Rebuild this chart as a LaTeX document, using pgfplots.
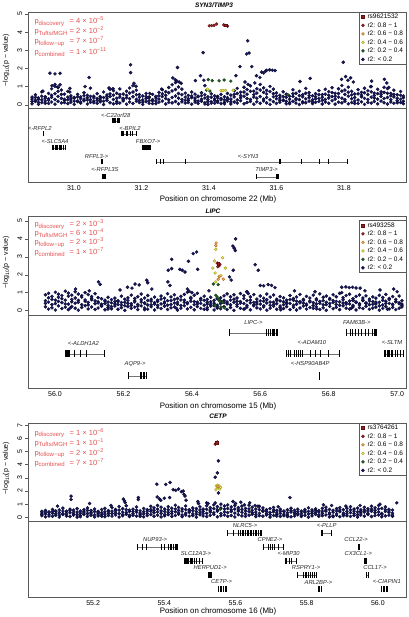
\documentclass[border=0pt]{standalone}
\usepackage{pgfplots}
\pgfplotsset{compat=1.18}
\usepackage{pgfplotstable}
\usepackage{fontspec}
\setmainfont{Liberation Sans}
\definecolor{navyf}{RGB}{24,24,98}
\definecolor{navyd}{RGB}{6,6,42}
\definecolor{dredf}{RGB}{150,30,30}
\definecolor{dredd}{RGB}{95,15,15}
\definecolor{orgf}{RGB}{240,200,140}
\definecolor{orgd}{RGB}{190,115,35}
\definecolor{yelf}{RGB}{250,250,170}
\definecolor{yeld}{RGB}{175,170,30}
\definecolor{grnf}{RGB}{35,95,35}
\definecolor{grnd}{RGB}{15,55,15}
\definecolor{pred}{RGB}{228,80,80}
\definecolor{frame}{RGB}{90,90,90}

\pgfplotstableread{
x a b c d
30.876 0.05 0.31 0.42 0.18
30.886 0.18 0.24 0.55 0.40
30.895 0.02 0.38 0.29 0.13
30.905 0.12 0.27 0.71 0.47
30.915 0.21 0.44 0.36 0.08
30.925 0.07 0.33 0.62 0.25
30.934 0.15 0.41 0.88 0.52
30.944 0.03 0.29 1.02 0.61
30.953 0.19 0.46 0.95 0.74
30.963 0.10 0.35 0.81 0.57
30.972 0.24 0.30 0.58 0.12
30.982 0.06 0.42 0.74 0.27
30.991 0.14 0.26 0.49 0.36
31.001 0.02 0.37 0.40 0.20
31.011 0.17 0.22 0.57 0.43
31.020 0.09 0.43 0.33 0.15
31.030 0.22 0.31 0.66 0.50
31.040 0.04 0.39 0.52 0.26
31.049 0.13 0.28 0.91 0.46
31.059 0.20 0.47 0.38 0.11
31.069 0.08 0.34 0.61 0.24
31.078 0.16 0.25 0.45 0.37
31.088 0.01 0.40 0.70 0.19
31.098 0.23 0.32 0.54 0.44
31.107 0.11 0.45 0.85 0.60
31.117 0.05 0.29 0.78 0.53
31.127 0.18 0.36 0.63 0.08
31.136 0.09 0.42 0.87 0.56
31.146 0.21 0.27 0.59 0.35
31.156 0.03 0.38 0.74 0.51
31.165 0.15 0.33 0.92 0.64
31.175 0.07 0.44 1.05 0.70
31.185 0.19 0.30 0.80 0.55
31.194 0.12 0.41 0.56 0.23
31.204 0.02 0.26 0.48 0.14
31.214 0.17 0.35 0.62 0.45
31.223 0.08 0.43 0.39 0.22
31.233 0.22 0.28 0.57 0.06
31.243 0.06 0.37 0.46 0.21
31.252 0.14 0.31 0.68 0.49
31.262 0.20 0.45 0.83 0.60
31.272 0.04 0.34 0.72 0.52
31.281 0.13 0.27 0.95 0.66
31.291 0.10 0.40 1.10 0.76
31.301 0.18 0.48 1.22 0.84
31.310 0.05 0.36 0.98 0.62
31.320 0.16 0.29 0.86 0.55
31.330 0.09 0.42 0.64 0.24
31.339 0.23 0.33 0.51 0.12
31.349 0.03 0.39 0.70 0.48
31.359 0.14 0.25 0.58 0.37
31.368 0.07 0.44 0.47 0.20
31.378 0.19 0.30 0.66 0.50
31.388 0.11 0.37 0.55 0.04
31.397 0.02 0.28 0.43 0.17
31.407 0.17 0.41 0.60 0.09
31.417 0.08 0.32 0.49 0.23
31.426 0.21 0.46 0.38 0.13
31.436 0.06 0.35 0.57 0.27
31.446 0.13 0.27 0.44 0.05
31.455 0.20 0.39 0.62 0.30
31.465 0.04 0.31 0.53 0.16
31.475 0.15 0.43 0.77 0.57
31.484 0.09 0.26 0.90 0.62
31.494 0.22 0.38 0.69 0.50
31.504 0.05 0.47 0.96 0.70
31.513 0.12 0.34 0.84 0.58
31.523 0.18 0.29 1.04 0.74
31.533 0.03 0.42 0.75 0.56
31.542 0.16 0.36 0.88 0.64
31.552 0.08 0.45 1.12 0.81
31.562 0.21 0.31 0.93 0.68
31.571 0.10 0.40 0.79 0.59
31.581 0.02 0.27 1.01 0.72
31.591 0.17 0.44 0.86 0.61
31.600 0.07 0.33 0.65 0.48
31.610 0.14 0.38 0.52 0.25
31.620 0.23 0.26 0.71 0.45
31.629 0.05 0.41 0.58 0.19
31.639 0.12 0.30 0.47 0.06
31.649 0.19 0.46 0.82 0.60
31.658 0.09 0.35 0.63 0.27
31.668 0.01 0.28 0.74 0.50
31.678 0.16 0.43 0.55 0.10
31.687 0.11 0.32 0.90 0.63
31.697 0.20 0.39 0.67 0.51
31.707 0.06 0.27 0.49 0.15
31.716 0.13 0.44 0.61 0.32
31.726 0.18 0.34 0.78 0.55
31.736 0.04 0.41 0.56 0.24
31.745 0.15 0.29 0.85 0.58
31.755 0.08 0.37 0.72 0.52
31.765 0.22 0.45 0.94 0.67
31.774 0.03 0.31 0.63 0.47
31.784 0.14 0.42 0.88 0.62
31.794 0.10 0.36 1.06 0.75
31.803 0.19 0.28 0.81 0.57
31.813 0.05 0.47 0.97 0.69
31.823 0.12 0.33 0.74 0.54
31.832 0.21 0.40 0.59 0.07
31.842 0.07 0.26 0.83 0.60
31.852 0.16 0.44 0.68 0.53
31.861 0.02 0.35 0.91 0.66
31.871 0.13 0.29 0.77 0.56
31.881 0.09 0.42 1.00 0.71
31.890 0.18 0.37 0.64 0.51
31.900 0.05 0.31 0.85 0.61
31.910 0.20 0.46 0.71 0.58
31.919 0.11 0.34 0.96 0.68
31.929 0.04 0.40 0.89 0.63
31.939 0.15 0.28 0.62 0.49
31.948 0.08 0.43 0.80 0.57
31.958 0.22 0.36 0.55 0.11
31.968 0.12 0.30 0.73 0.52
31.976 0.06 0.39 0.48 0.19
}\bandA

\pgfplotstableread{
x a b c d
55.972 0.21 0.55 0.88 0.40
55.981 0.08 0.47 0.96 0.71
55.991 0.15 0.62 0.79 0.33
56.001 0.03 0.39 1.02 0.58
56.010 0.26 0.51 0.91 0.74
56.020 0.11 0.44 0.84 0.66
56.030 0.19 0.58 1.08 0.37
56.039 0.05 0.36 0.97 0.80
56.049 0.23 0.49 0.86 0.62
56.059 0.13 0.41 1.05 0.70
56.068 0.02 0.57 0.92 0.46
56.078 0.17 0.33 0.83 0.75
56.088 0.27 0.52 1.00 0.59
56.097 0.09 0.45 0.89 0.31
56.107 0.20 0.60 0.78 0.68
56.117 0.06 0.38 0.94 0.54
56.126 0.14 0.48 0.72 0.42
56.136 0.24 0.35 0.66 0.28
56.146 0.04 0.53 0.58 0.39
56.155 0.18 0.29 0.74 0.47
56.165 0.10 0.43 0.61 0.22
56.175 0.25 0.37 0.69 0.50
56.184 0.07 0.50 0.55 0.33
56.194 0.16 0.31 0.80 0.45
56.204 0.01 0.46 0.63 0.27
56.213 0.22 0.40 0.71 0.56
56.223 0.12 0.28 0.86 0.38
56.233 0.19 0.54 0.67 0.48
56.242 0.05 0.34 0.77 0.25
56.252 0.26 0.47 0.92 0.60
56.262 0.14 0.39 0.70 0.43
56.271 0.08 0.56 0.84 0.31
56.281 0.21 0.32 0.63 0.52
56.291 0.03 0.44 0.75 0.36
56.300 0.17 0.51 0.58 0.29
56.310 0.11 0.37 0.81 0.64
56.320 0.24 0.48 0.69 0.41
56.329 0.06 0.30 0.94 0.55
56.339 0.15 0.55 0.76 0.34
56.349 0.20 0.42 0.88 0.62
56.358 0.02 0.35 0.67 0.47
56.368 0.13 0.59 0.79 0.28
56.378 0.27 0.45 0.90 0.58
56.387 0.09 0.38 1.02 0.44
56.397 0.18 0.52 0.73 0.66
56.407 0.04 0.33 0.85 0.50
56.416 0.22 0.47 0.96 0.37
56.426 0.12 0.40 0.68 0.59
56.436 0.07 0.57 0.80 0.30
56.445 0.16 0.36 0.62 0.46
56.455 0.25 0.49 0.74 0.35
56.465 0.03 0.41 0.57 0.27
56.474 0.14 0.30 0.66 0.20
56.484 0.10 0.53 0.71 0.39
56.494 0.21 0.44 0.82 0.57
56.503 0.06 0.37 0.93 0.48
56.513 0.17 0.58 0.77 0.32
56.523 0.01 0.46 0.88 0.63
56.532 0.23 0.34 0.70 0.52
56.542 0.12 0.50 0.95 0.41
56.552 0.08 0.39 0.83 0.67
56.561 0.19 0.55 1.05 0.29
56.571 0.04 0.43 0.76 0.58
56.581 0.26 0.31 0.89 0.45
56.590 0.15 0.48 0.64 0.36
56.600 0.09 0.36 0.81 0.54
56.610 0.20 0.52 0.69 0.27
56.619 0.02 0.42 0.92 0.60
56.629 0.13 0.29 0.75 0.47
56.639 0.24 0.47 0.87 0.34
56.648 0.07 0.38 0.63 0.56
56.658 0.16 0.54 0.78 0.25
56.668 0.11 0.33 0.71 0.49
56.677 0.22 0.45 0.58 0.38
56.687 0.05 0.40 0.84 0.61
56.697 0.18 0.57 0.67 0.30
56.706 0.03 0.35 0.76 0.52
56.716 0.14 0.49 0.90 0.43
56.726 0.25 0.41 0.62 0.57
56.735 0.08 0.30 0.79 0.36
56.745 0.17 0.53 0.70 0.48
56.755 0.12 0.44 0.86 0.28
56.764 0.21 0.37 0.65 0.59
56.774 0.06 0.51 0.93 0.40
56.784 0.15 0.32 0.74 0.55
56.793 0.01 0.46 0.81 0.33
56.803 0.23 0.39 0.68 0.62
56.813 0.10 0.56 0.88 0.45
56.822 0.18 0.34 0.77 0.51
56.832 0.05 0.48 0.96 0.29
56.842 0.26 0.42 0.72 0.60
56.851 0.13 0.36 0.84 0.44
56.861 0.08 0.53 0.91 0.37
56.871 0.20 0.29 0.66 0.56
56.880 0.03 0.45 0.79 0.48
56.890 0.16 0.38 0.87 0.31
56.900 0.11 0.55 0.70 0.58
56.909 0.24 0.41 0.82 0.42
56.919 0.07 0.33 0.64 0.53
56.929 0.14 0.50 0.76 0.35
56.938 0.19 0.37 0.69 0.47
56.948 0.02 0.46 0.85 0.26
56.958 0.12 0.31 0.73 0.57
56.967 0.22 0.52 0.90 0.40
56.977 0.09 0.40 0.67 0.61
56.987 0.17 0.35 0.78 0.32
56.996 0.05 0.49 0.62 0.50
57.006 0.13 0.43 0.81 0.38
57.014 0.20 0.36 0.55 0.28
}\bandB

\pgfplotstableread{
x a b c d
55.056 0.12 0.33 0.45 0.22
55.066 0.04 0.27 0.52 0.39
55.076 0.19 0.41 0.38 0.09
55.086 0.08 0.30 0.60 0.46
55.095 0.15 0.45 0.49 0.27
55.105 0.02 0.36 0.56 0.18
55.115 0.21 0.28 0.70 0.48
55.125 0.10 0.43 0.47 0.25
55.135 0.06 0.34 0.62 0.51
55.145 0.17 0.25 0.55 0.40
55.155 0.01 0.40 0.66 0.20
55.164 0.13 0.31 0.48 0.05
55.174 0.22 0.46 0.58 0.34
55.184 0.07 0.29 0.71 0.52
55.194 0.16 0.38 0.52 0.26
55.204 0.03 0.44 0.63 0.19
55.214 0.11 0.26 0.45 0.37
55.224 0.20 0.35 0.59 0.08
55.233 0.05 0.42 0.68 0.24
55.243 0.14 0.30 0.51 0.44
55.253 0.09 0.47 0.74 0.29
55.263 0.18 0.33 0.60 0.50
55.273 0.02 0.28 0.82 0.55
55.283 0.12 0.40 0.66 0.21
55.293 0.23 0.36 0.88 0.58
55.302 0.06 0.45 0.55 0.16
55.312 0.15 0.27 0.62 0.43
55.322 0.10 0.39 0.79 0.54
55.332 0.19 0.32 0.50 0.07
55.342 0.04 0.43 0.67 0.26
55.352 0.13 0.29 0.58 0.47
55.362 0.21 0.46 0.84 0.60
55.371 0.08 0.35 0.72 0.53
55.381 0.16 0.41 0.90 0.62
55.391 0.03 0.30 0.77 0.49
55.401 0.11 0.44 0.63 0.22
55.411 0.20 0.37 0.81 0.57
55.421 0.07 0.28 0.69 0.45
55.431 0.14 0.42 0.92 0.63
55.440 0.24 0.33 0.75 0.52
55.450 0.05 0.46 0.64 0.18
55.460 0.17 0.31 0.86 0.59
55.470 0.09 0.39 0.58 0.48
55.480 0.13 0.27 0.71 0.51
55.490 0.01 0.43 0.66 0.23
55.500 0.19 0.35 0.80 0.56
55.509 0.10 0.45 0.62 0.27
55.519 0.06 0.30 0.88 0.61
55.529 0.15 0.40 0.73 0.54
55.539 0.22 0.34 0.95 0.66
55.549 0.04 0.47 0.81 0.58
55.559 0.12 0.29 1.00 0.70
55.569 0.18 0.41 0.86 0.62
55.578 0.08 0.36 0.94 0.67
55.588 0.14 0.44 0.79 0.57
55.598 0.03 0.32 0.90 0.63
55.608 0.20 0.46 0.74 0.55
55.618 0.11 0.38 0.85 0.60
55.628 0.07 0.27 0.68 0.50
55.638 0.16 0.43 0.92 0.64
55.647 0.23 0.35 0.77 0.53
55.657 0.05 0.40 0.63 0.21
55.667 0.13 0.31 0.83 0.58
55.677 0.09 0.45 0.71 0.52
55.687 0.18 0.28 0.58 0.44
55.697 0.02 0.37 0.66 0.20
55.707 0.14 0.42 0.75 0.55
55.716 0.21 0.33 0.52 0.10
55.726 0.07 0.29 0.61 0.45
55.736 0.12 0.44 0.48 0.24
55.746 0.17 0.35 0.57 0.06
55.756 0.04 0.40 0.69 0.51
55.766 0.10 0.26 0.54 0.38
55.775 0.19 0.43 0.62 0.28
55.785 0.06 0.31 0.47 0.16
55.795 0.15 0.38 0.59 0.47
55.805 0.01 0.45 0.72 0.25
55.815 0.11 0.29 0.56 0.42
55.825 0.22 0.36 0.64 0.50
55.834 0.08 0.41 0.51 0.19
55.844 0.13 0.30 0.68 0.46
55.854 0.18 0.47 0.77 0.56
55.864 0.03 0.34 0.60 0.23
55.874 0.10 0.39 0.53 0.05
55.884 0.16 0.27 0.66 0.48
55.893 0.05 0.43 0.74 0.55
55.903 0.20 0.32 0.58 0.12
55.913 0.12 0.45 0.69 0.27
55.923 0.07 0.36 0.81 0.57
55.933 0.14 0.28 0.63 0.47
55.943 0.02 0.42 0.70 0.21
55.952 0.17 0.33 0.57 0.45
55.962 0.09 0.40 0.76 0.55
55.972 0.21 0.30 0.65 0.49
55.982 0.06 0.46 0.84 0.61
55.992 0.13 0.35 0.72 0.54
56.002 0.18 0.41 0.90 0.63
56.011 0.04 0.29 0.68 0.22
56.021 0.11 0.44 0.79 0.58
56.031 0.16 0.37 0.61 0.48
56.041 0.08 0.32 0.55 0.17
}\bandC

\pgfplotsset{
  base/.style={scale only axis, width=378pt, axis line style={frame, line width=0.5pt},
    tick style={frame, line width=0.4pt},
    ticklabel style={font=\fontsize{7}{8}\selectfont},
    /pgf/number format/assume math mode=true},
  scat/.style={base, xtick=\empty, ytick pos=left, tick align=outside, major tick length=3pt,
    yticklabel style={rotate=90, anchor=south, inner sep=2.5pt},
    legend cell align=left,
    legend image code/.code={\path[##1] plot coordinates {(0pt,0pt)};},
    legend style={at={(1,1)}, anchor=north east, draw=frame, line width=0.4pt,
      font=\fontsize{6.5}{7}\selectfont, inner xsep=2.2pt, inner ysep=1pt,
      nodes={inner sep=0.6pt, text height=4.8pt, text depth=1.4pt},
      row sep=1.1pt, column sep=2.4pt}},
  genes/.style={base, ytick=\empty, xtick pos=bottom, major tick length=0pt,
    xticklabel={\pgfmathprintnumber[fixed,fixed zerofill,precision=1]{\tick}}},
  nv/.style={only marks, mark=*, mark size=1.6pt, mark options={fill=navyf, draw=navyd, line width=0.3pt}},
  gr/.style={only marks, mark=*, mark size=1.5pt, mark options={fill=grnf, draw=grnd, line width=0.3pt}},
  ye/.style={only marks, mark=*, mark size=1.35pt, mark options={fill=yelf, draw=yeld, line width=0.6pt}},
  og/.style={only marks, mark=*, mark size=1.35pt, mark options={fill=orgf, draw=orgd, line width=0.6pt}},
  dr/.style={only marks, mark=*, mark size=1.5pt, mark options={fill=dredf, draw=dredd, line width=0.3pt}},
  sq/.style={only marks, mark=square*, mark size=1.4pt, mark options={fill=dredf, draw=dredd, line width=0.3pt}},
  ex/.style={only marks, mark=|, mark size=#1, mark options={line width=0.8pt, draw=black}},
  in/.style={no markers, draw=black!55, line width=0.5pt},
}
\tikzset{
  glab/.style={font=\fontsize{5.8}{6}\selectfont\itshape, text=black!85, inner sep=0pt},
  pv/.style={font=\fontsize{7.5}{8}\selectfont, text=pred, inner sep=0pt},
  ttl/.style={font=\fontsize{6.5}{7}\selectfont\bfseries\itshape},
  xl/.style={font=\fontsize{7.9}{9}\selectfont},
  yl/.style={font=\fontsize{7}{8}\selectfont, rotate=90},
}
\newcommand{\sx}[1]{\raisebox{3.3pt}{\fontsize{5.5}{5.5}\selectfont #1}}
\newcommand{\prow}[3]{%
  \node[pv,anchor=base west] at (34.3,#1) {p\raisebox{-1.6pt}{\fontsize{6}{6}\selectfont #2}};
  \node[pv,anchor=base west] at (69.5,#1) {= #3};}
\newcommand{\leg}[1]{%
  \addlegendimage{sq}\addlegendentry{#1}
  \addlegendimage{dr}\addlegendentry{r2: 0.8 − 1}
  \addlegendimage{og}\addlegendentry{r2: 0.6 − 0.8}
  \addlegendimage{ye}\addlegendentry{r2: 0.4 − 0.6}
  \addlegendimage{gr}\addlegendentry{r2: 0.2 − 0.4}
  \addlegendimage{nv}\addlegendentry{r2: < 0.2}}

\begin{document}
\begin{tikzpicture}[x=1pt,y=1pt]
\path[use as bounding box] (0,0) rectangle (408,617);

% ================= Panel 1 =================
\begin{axis}[scat, at={(28pt,605pt)}, anchor=north west, height=96pt,
  xmin=30.864, xmax=31.984, ymin=-0.18, ymax=5.11, ytick={0,1,2,3,4,5}]
\addplot[nv,forget plot] table[x=x,y=a]{\bandA};
\addplot[nv,forget plot] table[x=x,y=b]{\bandA};
\addplot[nv,forget plot] table[x=x,y=c]{\bandA};
\addplot[nv,forget plot] table[x=x,y=d]{\bandA};
\addplot[nv,forget plot] coordinates {(30.929,1.74)(30.944,1.70)(30.959,1.73)(30.935,1.05)(30.944,1.12)(30.953,0.98)(30.959,1.10)(30.908,0.75)(30.988,0.90)(30.988,0.70)(31.033,1.00)(31.045,1.50)(31.104,0.92)(31.116,0.88)(31.168,2.20)(31.168,1.77)(31.178,1.18)(31.184,1.02)(31.225,0.62)(31.260,0.86)(31.307,2.05)(31.293,1.48)(31.300,1.38)(31.305,1.30)(31.312,1.25)(31.318,1.18)(31.360,1.33)(31.375,1.60)(31.383,2.87)(31.385,1.35)(31.388,1.05)(31.480,1.60)(31.492,2.10)(31.507,1.25)(31.512,2.80)(31.515,3.52)(31.516,1.12)(31.519,2.85)(31.527,2.10)(31.536,1.20)(31.541,1.60)(31.551,1.50)(31.556,1.80)(31.562,1.75)(31.568,1.85)(31.571,1.90)(31.580,1.92)(31.588,1.90)(31.596,1.88)(31.670,1.28)(31.700,1.45)(31.793,1.40)(31.798,2.34)(31.805,1.55)(31.812,1.35)(31.820,1.48)(31.828,1.25)(31.879,1.00)(31.882,1.30)(31.920,1.40)(31.927,1.20)(31.933,0.95)};
\addplot[gr,forget plot] coordinates {(31.398,1.38)(31.410,1.33)(31.430,1.32)(31.445,1.36)(31.465,1.30)(31.393,0.80)(31.403,0.75)(31.634,0.55)};
\addplot[ye,forget plot] coordinates {(31.396,0.86)(31.436,0.78)(31.442,0.78)(31.449,0.79)(31.472,0.80)};
\addplot[dr,forget plot] coordinates {(31.401,4.35)(31.408,4.36)(31.415,4.37)(31.423,4.45)(31.444,4.40)(31.455,4.33)};
\addplot[sq,forget plot] coordinates {(31.450,4.38)};
\leg{rs9621532}
\end{axis}
\begin{axis}[genes, at={(28pt,509pt)}, anchor=north west, height=74pt,
  xmin=30.864, xmax=31.984, ymin=-182, ymax=-108, xtick={31.0,31.2,31.4,31.6,31.8}]
\addplot[in] coordinates {(31.113,-121)(31.136,-121)};
\addplot[ex=2.5] coordinates {(31.113,-121)(31.116,-121)(31.119,-121)(31.124,-121)(31.128,-121)(31.131,-121)(31.134,-121)(31.136,-121)};
\addplot[ex=2.5] coordinates {(30.909,-134)};
\addplot[in] coordinates {(31.141,-134)(31.184,-134)};
\addplot[ex=2.5] coordinates {(31.141,-134)(31.143,-134)(31.148,-134)(31.157,-134)(31.159,-134)(31.166,-134)(31.168,-134)(31.174,-134)(31.184,-134)};
\addplot[in] coordinates {(30.937,-148)(30.975,-148)};
\addplot[ex=2.5] coordinates {(30.937,-148)(30.940,-148)(30.944,-148)(30.947,-148)(30.950,-148)(30.957,-148)(30.960,-148)(30.964,-148)(30.970,-148)(30.975,-148)};
\addplot[in] coordinates {(31.203,-148)(31.228,-148)};
\addplot[ex=2.5] coordinates {(31.203,-148)(31.206,-148)(31.209,-148)(31.212,-148)(31.215,-148)(31.218,-148)(31.221,-148)(31.224,-148)(31.228,-148)};
\addplot[ex=2.5] coordinates {(31.081,-162)(31.083,-162)};
\addplot[in] coordinates {(31.243,-162)(31.810,-162)};
\addplot[ex=2.5] coordinates {(31.243,-162)(31.245,-162)(31.255,-162)(31.265,-162)(31.329,-162)(31.608,-162)(31.611,-162)(31.675,-162)(31.727,-162)(31.754,-162)(31.810,-162)};
\addplot[in] coordinates {(31.085,-177)(31.094,-177)};
\addplot[ex=2.5] coordinates {(31.085,-177)(31.088,-177)(31.091,-177)(31.094,-177)};
\addplot[in] coordinates {(31.541,-177)(31.605,-177)};
\addplot[ex=2.5] coordinates {(31.541,-177)(31.599,-177)(31.601,-177)(31.603,-177)(31.605,-177)};
\node[glab] at (31.124,-115) {<-C22orf28};
\node[glab] at (30.899,-128) {<-RFPL2};
\node[glab] at (31.166,-128) {<-BPIL2};
\node[glab] at (30.944,-142) {<-SLC5A4};
\node[glab] at (31.220,-142) {FBXO7->};
\node[glab] at (31.067,-157) {RFPL3->};
\node[glab] at (31.516,-157) {<-SYN3};
\node[glab] at (31.092,-170) {<-RFPL3S};
\node[glab] at (31.571,-170) {TIMP3->};
\end{axis}
\node[ttl] at (214,612) {SYN3/TIMP3};
\node[xl] at (218,418) {Position on chromosome 22 (Mb)};
\node[yl] at (6,557) {−log\raisebox{-1.2pt}{\fontsize{5}{5}\selectfont 10}(p − value)};
\prow{593.3}{discovery}{4 × 10\sx{−5}}
\prow{583.3}{Tufts/MGH}{2 × 10\sx{−2}}
\prow{573.3}{follow−up}{7 × 10\sx{−7}}
\prow{562}{combined}{1 × 10\sx{−11}}

% ================= Panel 2 =================
\begin{axis}[scat, at={(28pt,401pt)}, anchor=north west, height=99pt,
  xmin=55.921, xmax=57.026, ymin=-0.25, ymax=5.28, ytick={0,1,2,3,4,5},
  legend style={at={(1,0.955)}}]
\addplot[nv,forget plot] table[x=x,y=a]{\bandB};
\addplot[nv,forget plot] table[x=x,y=b]{\bandB};
\addplot[nv,forget plot] table[x=x,y=c]{\bandB};
\addplot[nv,forget plot] table[x=x,y=d]{\bandB};
\addplot[nv,forget plot] coordinates {(56.404,3.18)(56.414,3.27)(56.341,2.86)(56.390,2.75)(56.331,2.25)(56.341,2.34)(56.365,2.30)(56.372,2.25)(56.380,2.15)(56.417,2.30)(56.268,1.69)(56.271,1.55)(56.234,1.48)(56.246,1.43)(56.283,1.20)(56.127,1.60)(56.132,1.46)(56.330,1.60)(56.336,1.40)(56.060,1.20)(56.100,1.10)(56.528,4.00)(56.520,3.60)(56.524,3.48)(56.527,3.35)(56.585,2.56)(56.594,2.25)(56.521,2.25)(56.510,1.88)(56.515,1.70)(56.387,1.20)(56.392,1.08)(56.400,1.00)(56.623,1.45)(56.633,1.40)(56.643,1.28)(56.600,1.40)(56.610,1.38)(56.838,1.30)(56.850,1.32)(56.860,1.28)(56.870,1.30)(56.880,1.26)(56.892,1.25)(56.906,1.10)(56.838,1.00)(56.560,1.05)(56.565,0.95)(56.225,1.25)(56.212,1.30)(56.190,1.15)(56.450,1.10)(56.700,1.10)(56.760,1.05)(56.950,1.15)(56.990,1.20)(57.000,1.05)(56.045,0.15)(56.155,0.08)(56.262,0.05)(56.355,0.12)(56.445,0.06)(56.555,0.10)(56.660,0.04)(56.765,0.09)(56.866,0.13)(56.972,0.07)};
\addplot[gr,forget plot] coordinates {(56.463,1.48)(56.477,1.45)(56.470,0.85)(56.474,0.75)(56.478,0.60)(56.482,0.50)(56.490,0.45)(56.468,0.30)(56.485,0.20)(56.495,0.15)};
\addplot[ye,forget plot] coordinates {(56.470,3.42)(56.466,2.77)(56.490,2.95)(56.461,2.37)(56.498,2.37)(56.468,2.10)(56.470,1.60)(56.485,1.95)};
\addplot[og,forget plot] coordinates {(56.471,3.77)(56.470,3.62)(56.480,1.90)(56.477,1.75)(56.492,1.75)};
\addplot[dr,forget plot] coordinates {(56.474,2.65)(56.478,2.55)(56.476,2.45)(56.480,2.50)(56.482,2.58)};
\addplot[sq,forget plot] coordinates {(56.477,2.62)};
\leg{rs493258}
\end{axis}
\begin{axis}[genes, at={(28pt,302pt)}, anchor=north west, height=73pt,
  xmin=55.921, xmax=57.026, ymin=-388, ymax=-315, xtick={56.0,56.2,56.4,56.6,56.8,57.0}]
\addplot[in] coordinates {(56.510,-333)(56.650,-333)};
\addplot[ex=3.5] coordinates {(56.510,-333)(56.619,-333)(56.624,-333)(56.629,-333)(56.634,-333)(56.638,-333)(56.642,-333)(56.646,-333)(56.650,-333)};
\addplot[in] coordinates {(56.853,-333)(56.940,-333)};
\addplot[ex=3.5] coordinates {(56.853,-333)(56.863,-333)(56.870,-333)(56.878,-333)(56.887,-333)(56.897,-333)(56.906,-333)(56.916,-333)(56.929,-333)(56.933,-333)(56.936,-333)(56.940,-333)};
\addplot[in] coordinates {(56.030,-354)(56.145,-354)};
\addplot[ex=3.5] coordinates {(56.030,-354)(56.033,-354)(56.036,-354)(56.039,-354)(56.042,-354)(56.058,-354)(56.073,-354)(56.091,-354)(56.145,-354)};
\addplot[in] coordinates {(56.677,-354)(56.831,-354)};
\addplot[ex=3.5] coordinates {(56.677,-354)(56.683,-354)(56.689,-354)(56.701,-354)(56.706,-354)(56.712,-354)(56.718,-354)(56.724,-354)(56.746,-354)(56.760,-354)(56.775,-354)(56.799,-354)(56.831,-354)};
\addplot[in] coordinates {(56.963,-354)(57.019,-354)};
\addplot[ex=3.5] coordinates {(56.963,-354)(56.967,-354)(56.971,-354)(56.975,-354)(56.978,-354)(56.982,-354)(56.987,-354)(56.994,-354)(57.001,-354)(57.011,-354)(57.019,-354)};
\addplot[in] coordinates {(56.215,-376)(56.266,-376)};
\addplot[ex=3.5] coordinates {(56.215,-376)(56.249,-376)(56.253,-376)(56.257,-376)(56.261,-376)(56.266,-376)};
\addplot[ex=4] coordinates {(56.773,-376)};
\node[glab] at (56.580,-323) {LIPC->};
\node[glab] at (56.882,-323) {FAM63B->};
\node[glab] at (56.083,-343) {<-ALDH1A2};
\node[glab] at (56.751,-343) {<-ADAM10};
\node[glab] at (56.985,-343) {<-SLTM};
\node[glab] at (56.234,-364) {AQP9->};
\node[glab] at (56.746,-364) {<-HSP90AB4P};
\end{axis}
\node[ttl] at (213,406) {LIPC};
\node[xl] at (218,211) {Position on chromosome 15 (Mb)};
\node[yl] at (6,354.5) {−log\raisebox{-1.2pt}{\fontsize{5}{5}\selectfont 10}(p − value)};
\prow{390.3}{discovery}{2 × 10\sx{−3}}
\prow{381}{Tufts/MGH}{6 × 10\sx{−4}}
\prow{372}{follow−up}{2 × 10\sx{−3}}
\prow{362}{combined}{1 × 10\sx{−7}}

% ================= Panel 3 =================
\begin{axis}[scat, at={(28pt,194pt)}, anchor=north west, height=98pt,
  xmin=55.017, xmax=56.079, ymin=-0.28, ymax=7.17, ytick={0,1,2,3,4,5,6,7}]
\addplot[nv,forget plot] table[x=x,y=a]{\bandC};
\addplot[nv,forget plot] table[x=x,y=b]{\bandC};
\addplot[nv,forget plot] table[x=x,y=c]{\bandC};
\addplot[nv,forget plot] table[x=x,y=d]{\bandC};
\addplot[nv,forget plot] coordinates {(55.138,1.61)(55.138,1.36)(55.190,1.05)(55.285,1.38)(55.288,1.25)(55.290,1.12)(55.327,1.50)(55.327,1.35)(55.379,2.52)(55.404,2.50)(55.416,2.65)(55.380,1.55)(55.386,1.40)(55.390,1.30)(55.400,1.45)(55.415,1.50)(55.425,2.10)(55.432,2.05)(55.440,2.15)(55.448,1.95)(55.453,2.00)(55.455,1.75)(55.458,1.62)(55.461,1.30)(55.494,1.20)(55.496,1.05)(55.519,1.10)(55.523,1.05)(55.543,1.10)(55.552,4.29)(55.549,3.38)(55.543,3.05)(55.552,1.85)(55.593,1.20)(55.600,1.05)(55.615,1.15)(55.625,0.95)(55.640,1.10)(55.655,0.90)(55.663,0.85)(55.720,0.80)(55.753,1.50)(55.847,0.95)(55.870,0.90)(55.910,0.85)(55.950,0.90)(56.006,1.00)(56.053,1.10)(55.250,0.90)(55.100,0.85)};
\addplot[gr,forget plot] coordinates {(55.557,0.60)};
\addplot[ye,forget plot] coordinates {(55.546,2.40)(55.550,2.45)(55.554,2.38)(55.549,2.25)(55.556,2.15)(55.545,2.10)(55.552,2.30)(55.558,2.28)};
\addplot[og,forget plot] coordinates {(55.551,2.33)};
\addplot[dr,forget plot] coordinates {(55.543,5.56)(55.545,5.62)(55.547,5.68)(55.549,5.72)};
\addplot[sq,forget plot] coordinates {(55.548,5.70)};
\leg{rs3764261}
\end{axis}
\begin{axis}[genes, at={(28pt,96pt)}, anchor=north west, height=76pt,
  xmin=55.017, xmax=56.079, ymin=-597, ymax=-521, xtick={55.2,55.4,55.6,55.8,56.0}]
\addplot[in] coordinates {(55.578,-533)(55.674,-533)};
\addplot[ex=2.8] coordinates {(55.578,-533)(55.594,-533)(55.608,-533)(55.613,-533)(55.618,-533)(55.622,-533)(55.627,-533)(55.632,-533)(55.636,-533)(55.641,-533)(55.646,-533)(55.650,-533)(55.655,-533)(55.660,-533)(55.664,-533)(55.669,-533)(55.674,-533)};
\addplot[in] coordinates {(55.840,-533)(55.869,-533)};
\addplot[ex=2.8] coordinates {(55.840,-533)(55.845,-533)(55.869,-533)};
\addplot[in] coordinates {(55.323,-547)(55.438,-547)};
\addplot[ex=2.8] coordinates {(55.323,-547)(55.337,-547)(55.351,-547)(55.393,-547)(55.399,-547)(55.412,-547)(55.416,-547)(55.421,-547)(55.426,-547)(55.430,-547)(55.435,-547)(55.438,-547)};
\addplot[in] coordinates {(55.678,-547)(55.735,-547)};
\addplot[ex=2.8] coordinates {(55.678,-547)(55.692,-547)(55.699,-547)(55.705,-547)(55.708,-547)(55.721,-547)(55.735,-547)};
\addplot[ex=2.8] coordinates {(55.944,-547)(55.946,-547)(55.948,-547)};
\addplot[in] coordinates {(55.456,-561)(55.507,-561)};
\addplot[ex=2.8] coordinates {(55.456,-561)(55.459,-561)(55.462,-561)(55.465,-561)(55.469,-561)(55.472,-561)(55.476,-561)(55.480,-561)(55.485,-561)(55.491,-561)(55.499,-561)(55.507,-561)};
\addplot[in] coordinates {(55.739,-561)(55.772,-561)};
\addplot[ex=2.8] coordinates {(55.739,-561)(55.744,-561)(55.751,-561)(55.758,-561)(55.772,-561)};
\addplot[ex=2.8] coordinates {(55.961,-561)(55.964,-561)(55.969,-561)};
\addplot[ex=2.8] coordinates {(55.524,-575)(55.527,-575)(55.530,-575)(55.533,-575)};
\addplot[in] coordinates {(55.775,-575)(55.826,-575)};
\addplot[ex=2.8] coordinates {(55.775,-575)(55.791,-575)(55.796,-575)(55.800,-575)(55.805,-575)(55.810,-575)(55.816,-575)(55.822,-575)(55.826,-575)};
\addplot[in] coordinates {(55.967,-575)(55.974,-575)};
\addplot[ex=2.8] coordinates {(55.967,-575)(55.974,-575)};
\addplot[ex=2.8] coordinates {(55.552,-589)(55.557,-589)(55.561,-589)(55.566,-589)(55.571,-589)(55.575,-589)};
\addplot[ex=2.8] coordinates {(55.833,-589)(55.836,-589)(55.840,-589)};
\addplot[ex=2.8] coordinates {(56.011,-589)(56.015,-589)(56.019,-589)(56.023,-589)(56.027,-589)};
\node[glab] at (55.627,-526) {NLRC5->};
\node[glab] at (55.856,-526) {<-PLLP};
\node[glab] at (55.374,-540) {NUP93->};
\node[glab] at (55.697,-540) {CPNE2->};
\node[glab] at (55.939,-540) {CCL22->};
\node[glab] at (55.489,-554) {SLC12A3->};
\node[glab] at (55.749,-554) {<-MIP30};
\node[glab] at (55.945,-554) {CX3CL1->};
\node[glab] at (55.529,-568) {HERPUD1->};
\node[glab] at (55.798,-568) {RSPRY1->};
\node[glab] at (55.992,-568) {CCL17->};
\node[glab] at (55.561,-582) {CETP->};
\node[glab] at (55.833,-582) {ARL2BP->};
\node[glab] at (56.025,-582) {<-CIAPIN1};
\end{axis}
\node[ttl] at (218,201) {CETP};
\node[xl] at (218,5.3) {Position on chromosome 16 (Mb)};
\node[yl] at (6,149) {−log\raisebox{-1.2pt}{\fontsize{5}{5}\selectfont 10}(p − value)};
\prow{181.6}{discovery}{1 × 10\sx{−6}}
\prow{171.6}{Tufts/MGH}{1 × 10\sx{−1}}
\prow{161.6}{follow−up}{2 × 10\sx{−2}}
\prow{151.6}{combined}{7 × 10\sx{−7}}
\end{tikzpicture}
\end{document}
